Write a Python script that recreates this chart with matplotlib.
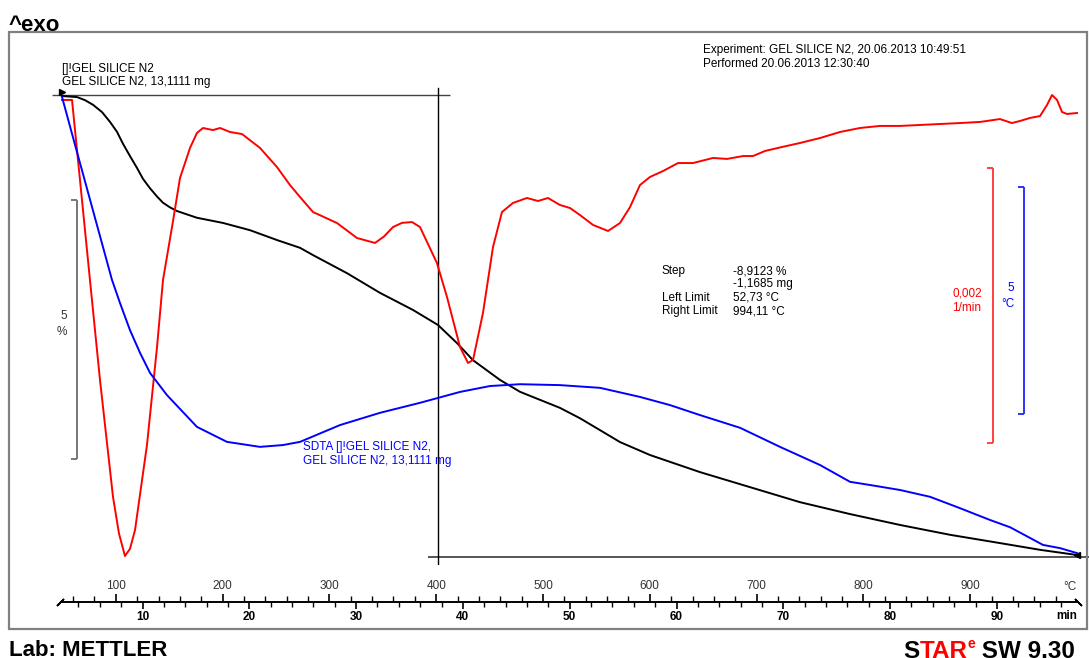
import numpy as np
import matplotlib
matplotlib.use("Agg")
import matplotlib.pyplot as plt
from matplotlib.patches import Rectangle

plt.rcParams['font.family'] = ['Liberation Sans', 'DejaVu Sans']

# === DATA (time in min) ===
# TGA, normalised weight in %
tga_t = [2.46, 3.87, 4.62, 5.37, 6.21, 6.96, 7.61, 8.17, 8.83, 9.49, 10.05, 10.70,
         11.36, 11.92, 12.58, 13.23, 15.10, 17.54, 20.07, 22.59, 24.75, 25.96, 29.15,
         32.24, 35.33, 37.67, 39.45, 40.95, 43.47, 45.35, 49.09, 50.96, 52.84, 54.71,
         57.52, 62.20, 66.88, 71.56, 76.25, 80.93, 85.61, 90.29, 94.04, 97.50]
tga_w = [99.98, 99.96, 99.90, 99.81, 99.67, 99.48, 99.29, 99.06, 98.82, 98.59, 98.38, 98.20,
         98.04, 97.92, 97.83, 97.76, 97.63, 97.53, 97.39, 97.20, 97.05, 96.91, 96.56,
         96.18, 95.85, 95.56, 95.21, 94.88, 94.50, 94.27, 93.96, 93.76, 93.53, 93.30,
         93.05, 92.72, 92.43, 92.14, 91.91, 91.70, 91.51, 91.35, 91.22, 91.12]

# DTG, first derivative in 1e-4 1/min
dtg_t = [2.46, 3.40, 5.08, 6.02, 7.24, 7.80, 8.36, 8.83, 9.30, 10.42, 11.36, 11.92, 12.86,
         13.51, 14.45, 15.10, 15.66, 16.60, 17.26, 18.19, 19.32, 21.00, 22.59, 23.81,
         24.75, 25.96, 28.21, 30.08, 31.77, 32.60, 33.46, 34.30, 35.23, 35.98, 37.57,
         38.51, 39.73, 40.48, 40.95, 41.88, 42.82, 43.66, 44.69, 46.00, 47.03, 47.97,
         49.09, 50.03, 50.96, 52.18, 53.59, 54.71, 55.65, 56.58, 57.52, 58.74, 60.14,
         61.54, 63.42, 64.73, 66.23, 67.16, 68.29, 69.50, 71.56, 73.44, 75.31, 77.18,
         79.04, 80.93, 82.80, 84.67, 86.54, 88.42, 90.29, 91.41, 92.16, 93.10, 94.04,
         94.69, 95.16, 95.63, 96.10, 96.56, 97.50]
dtg_v = [-0.36, -0.36, -13.45, -20.73, -29.24, -31.90, -33.53, -33.00, -31.64, -25.45, -18.33,
         -13.45, -9.16, -6.04, -3.85, -2.76, -2.40, -2.55, -2.40, -2.69, -2.84, -3.85, -5.24,
         -6.55, -7.42, -8.51, -9.31, -10.40, -10.76, -10.30, -9.60, -9.30, -9.24, -9.60,
         -12.22, -14.69, -18.33, -19.49, -19.27, -15.85, -11.05, -8.51, -7.85, -7.49, -7.71,
         -7.49, -8.00, -8.22, -8.73, -9.45, -9.89, -9.31, -8.15, -6.55, -5.96, -5.53, -4.95,
         -4.95, -4.58, -4.65, -4.44, -4.44, -4.07, -3.85, -3.49, -3.13, -2.69, -2.40, -2.25,
         -2.25, -2.18, -2.11, -2.04, -1.96, -1.75, -2.04, -1.89, -1.67, -1.53, -0.73, 0.00,
         -0.36, -1.24, -1.38, -1.31]

# SDTA signal in °C
sdta_t = [2.46, 3.87, 7.14, 7.89, 8.83, 9.77, 10.70, 12.29, 15.10, 17.91, 21.00, 23.16,
          24.75, 28.49, 32.24, 35.98, 39.73, 42.54, 45.35, 49.09, 52.84, 56.58, 59.39,
          62.20, 65.95, 69.69, 73.44, 76.25, 78.12, 80.93, 83.74, 86.54, 89.35, 91.23,
          94.32, 95.91, 97.50]
sdta_v = [-0.04, -1.26, -4.07, -4.58, -5.18, -5.68, -6.12, -6.61, -7.31, -7.64, -7.75, -7.71,
          -7.64, -7.27, -7.00, -6.78, -6.54, -6.41, -6.37, -6.39, -6.45, -6.65, -6.83,
          -7.05, -7.33, -7.75, -8.15, -8.52, -8.59, -8.70, -8.85, -9.10, -9.36, -9.52,
          -9.91, -9.98, -10.09]

# step evaluation
step_left_t, step_right_t = 1.53, 38.79
step_mid_t = 37.67
step_top, step_loss = 100.0, 8.9123

# heating program: T = rate * t + T0
rate, T0 = 10.0, 25.0
min_ticks = [10, 20, 30, 40, 50, 60, 70, 80, 90]
temp_ticks = [100, 200, 300, 400, 500, 600, 700, 800, 900]

# === FIGURE ===
W, H = 1089, 658
fig = plt.figure(figsize=(W / 100, H / 100), dpi=100)

def fx(px):
    return px / W

def fy(py):
    return 1 - py / H

ax_l, ax_w = fx(35.7), 1068 / W
ax_top, ax_bot = 85, 565
ax = fig.add_axes([ax_l, fy(ax_bot), ax_w, (ax_bot - ax_top) / H])
ax_dtg = ax.twinx()
ax_sd = ax.twinx()
for a in (ax, ax_dtg, ax_sd):
    a.set_xlim(0, 100)
    a.axis('off')

ax.set_ylim(90.927, 100.193)
ax_dtg.set_ylim(-0.0034182, 0.0000727)
ax_sd.set_ylim(-10.352, 0.2203)

dtg = np.array(dtg_v) * 1e-4

ax_sd.plot(sdta_t, sdta_v, color='#0000ff', lw=1.4, zorder=3, solid_joinstyle='round')
ax_dtg.plot(dtg_t, dtg, color='#ff0000', lw=1.4, zorder=3, solid_joinstyle='round')
ax.plot(tga_t, tga_w, color='black', lw=1.4, zorder=4, solid_joinstyle='round')
ax.plot(tga_t[0], tga_w[0] + 0.07, marker='>', color='black', ms=4, zorder=5)
ax.plot(tga_t[-1], tga_w[-1], marker='<', color='black', ms=5, zorder=5)

# step construction lines
ax.hlines(step_top, step_left_t, step_right_t, color='#444444', lw=1.0)
ax.hlines(step_top - step_loss, 36.73, 100, color='#555555', lw=1.4)
ax.axvline(step_mid_t, ymin=0, ymax=0.994, color='black', lw=1.0)

# scale bars
def scale_bar(a, t, y0, y1, color):
    a.vlines(t, y0, y1, color=color, lw=1.4)
    a.hlines([y0, y1], t - 0.6, t, color=color, lw=1.4)

scale_bar(ax, 3.87, 97.97, 92.97, '#777777')
scale_bar(ax_dtg, 89.64, -0.00053, -0.00253, '#ff4040')
scale_bar(ax_sd, 92.54, -2.03, -7.03, '#3030ff')

# === RULER (min below, °C above) ===
rax = fig.add_axes([ax_l, fy(601.5), ax_w, 1e-5])
rax.set_xlim(0, 100)
rax.set_ylim(0, 1)
for s in ('top', 'left', 'right'):
    rax.spines[s].set_visible(False)
rax.spines['bottom'].set_bounds(tga_t[0], tga_t[-1])
rax.spines['bottom'].set_linewidth(1.4)
rax.set_yticks([])
rax.set_xticks(min_ticks)
rax.set_xticklabels([str(v) for v in min_ticks], fontweight='bold')
rax.set_xticks(np.arange(4, 97, 2), minor=True)
rax.tick_params(axis='x', which='major', direction='out', length=5, width=1.2,
                labelsize=8.5, pad=1.5)
rax.tick_params(axis='x', which='minor', direction='out', length=3.5, width=1.0)

sec = rax.secondary_xaxis('top', functions=(lambda t: rate * t + T0,
                                            lambda T: (T - T0) / rate))
sec.set_xticks(temp_ticks)
sec.set_xticklabels([str(v) for v in temp_ticks])
sec.set_xticks(np.arange(60, 1000, 20), minor=True)
sec.tick_params(axis='x', which='major', direction='out', length=5, width=1.2,
                labelsize=8.5, pad=1.5, labelcolor='#333333')
sec.tick_params(axis='x', which='minor', direction='out', length=3.5, width=1.0)
sec.spines['top'].set_visible(False)

rax.plot(tga_t[0] - 0.2, 0, marker=(2, 2, -45), ms=7, color='black', mew=1.2, clip_on=False)
rax.plot(tga_t[-1] + 0.1, 0, marker=(2, 2, 45), ms=7, color='black', mew=1.2, clip_on=False)

fig.text(fx(1070), fy(587), '°C', fontsize=8.5, color='#333333', ha='center', va='center')
fig.text(fx(1067), fy(616), 'min', fontsize=8.5, fontweight='bold', ha='center', va='center')

# === FRAME AND TEXT ===
fig.add_artist(Rectangle((fx(9), fy(629)), fx(1087) - fx(9), (629 - 32) / H,
                         transform=fig.transFigure, fill=False, ec='#808080', lw=1.6))

fs = 8.5
fig.text(fx(9), fy(31), '^exo', fontsize=16, fontweight='bold', va='baseline')
fig.text(fx(62), fy(69), '[]!GEL SILICE N2', fontsize=fs, va='center')
fig.text(fx(62), fy(82), 'GEL SILICE N2, 13,1111 mg', fontsize=fs, va='center')
fig.text(fx(703), fy(50), 'Experiment: GEL SILICE N2, 20.06.2013 10:49:51', fontsize=fs, va='center')
fig.text(fx(703), fy(64), 'Performed 20.06.2013 12:30:40', fontsize=fs, va='center')

rows = [('Step', '-8,9123 %', 271), ('', '-1,1685 mg', 284),
        ('Left Limit', '52,73 °C', 298), ('Right Limit', '994,11 °C', 311)]
for name, val, py in rows:
    fig.text(fx(662), fy(py), name, fontsize=fs, va='center')
    fig.text(fx(733), fy(py), val, fontsize=fs, va='center')

fig.text(fx(303), fy(447), 'SDTA []!GEL SILICE N2,', fontsize=fs, color='#0000ff', va='center')
fig.text(fx(303), fy(461), 'GEL SILICE N2, 13,1111 mg', fontsize=fs, color='#0000ff', va='center')

fig.text(fx(67), fy(316), '5', fontsize=fs, color='#333333', ha='right', va='center')
fig.text(fx(67), fy(332), '%', fontsize=fs, color='#333333', ha='right', va='center')
fig.text(fx(967), fy(293), '0,002', fontsize=fs, color='#ff0000', ha='center', va='center')
fig.text(fx(967), fy(308), '1/min', fontsize=fs, color='#ff0000', ha='center', va='center')
fig.text(fx(1011), fy(288), '5', fontsize=fs, color='#0000ff', ha='center', va='center')
fig.text(fx(1008), fy(304), '°C', fontsize=fs, color='#0000ff', ha='center', va='center')

fig.text(fx(9), fy(640), 'Lab: METTLER', fontsize=16, fontweight='bold', va='top')

# STARe SW 9.30 logo text, pieced together
r = fig.canvas.get_renderer()
x = 903
for s, c, sz, py in [('S', 'black', 17.5, 640), ('TAR', '#ff0000', 17.5, 640),
                     ('e', '#ff0000', 10, 637), (' SW 9.30', 'black', 17.5, 640)]:
    t = fig.text(fx(x), fy(py), s, color=c, fontsize=sz, fontweight='bold', va='top')
    x += t.get_window_extent(r).width

fig.savefig('out.png', dpi=100)
plt.close(fig)
